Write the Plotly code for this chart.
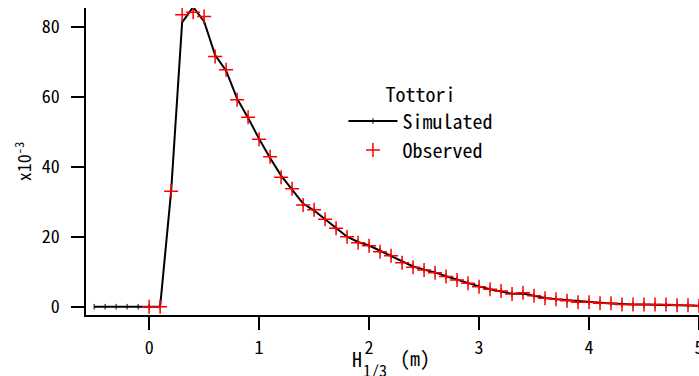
import plotly.graph_objects as go

# Significant wave height squared, H_1/3^2 (m)
sim_x = [-0.5, -0.4, -0.3, -0.2, -0.1, 0.0, 0.1, 0.2, 0.3, 0.4, 0.5, 0.6, 0.7, 0.8, 0.9,
         1.0, 1.1, 1.2, 1.3, 1.4, 1.5, 1.6, 1.7, 1.8, 1.9, 2.0, 2.1, 2.2, 2.3, 2.4,
         2.5, 2.6, 2.7, 2.8, 2.9, 3.0, 3.1, 3.2, 3.3, 3.4, 3.5, 3.6, 3.7, 3.8, 3.9,
         4.0, 4.1, 4.2, 4.3, 4.4, 4.5, 4.6, 4.7, 4.8, 4.9, 5.0]
# Simulated frequency (x10^-3)
sim_y = [0, 0, 0, 0, 0, 0, 0, 33.0, 81.3, 85.7, 81.6, 72.0, 67.5, 59.5, 54.0,
         48.0, 42.5, 37.5, 33.5, 29.5, 27.5, 25.0, 22.5, 20.0, 18.5, 17.5, 16.0, 14.5, 12.8, 11.5,
         10.6, 9.8, 8.7, 7.7, 6.8, 5.8, 5.0, 4.4, 3.7, 3.8, 3.1, 2.5, 2.1, 1.8, 1.5,
         1.3, 1.1, 0.9, 0.7, 0.6, 0.6, 0.5, 0.5, 0.4, 0.4, 0.3]

obs_x = [0.0, 0.1, 0.2, 0.3, 0.4, 0.5, 0.6, 0.7, 0.8, 0.9,
         1.0, 1.1, 1.2, 1.3, 1.4, 1.5, 1.6, 1.7, 1.8, 1.9, 2.0, 2.1, 2.2, 2.3, 2.4,
         2.5, 2.6, 2.7, 2.8, 2.9, 3.0, 3.1, 3.2, 3.3, 3.4, 3.5, 3.6, 3.7, 3.8, 3.9,
         4.0, 4.1, 4.2, 4.3, 4.4, 4.5, 4.6, 4.7, 4.8, 4.9, 5.0]
# Observed frequency (x10^-3)
obs_y = [0, 0, 33.0, 83.5, 84.2, 83.0, 71.6, 67.8, 59.2, 54.2,
         47.9, 42.9, 37.0, 33.7, 29.1, 27.7, 25.0, 22.4, 20.0, 18.3, 17.4, 15.7, 14.6, 12.6, 11.3,
         10.5, 9.7, 8.6, 7.6, 6.7, 5.7, 5.0, 4.5, 3.6, 4.0, 3.1, 2.4, 2.1, 1.7, 1.3,
         1.3, 1.0, 1.0, 0.6, 0.6, 0.6, 0.6, 0.6, 0.4, 0.4, 0.3]

x_ticks = [0, 1, 2, 3, 4, 5]
y_ticks = [0, 20, 40, 60, 80]

FONT = "Noto Sans Mono CJK JP, Noto Sans CJK JP, DejaVu Sans Mono, monospace"

fig = go.Figure()
fig.add_trace(go.Scatter(
    x=sim_x, y=sim_y, mode="lines+markers", name="Simulated",
    line=dict(color="black", width=2),
    marker=dict(symbol="line-ns", size=4, line=dict(color="black", width=1)),
))
fig.add_trace(go.Scatter(
    x=obs_x, y=obs_y, mode="markers", name="Observed",
    marker=dict(symbol="cross-thin", size=10, line=dict(color="red", width=1.5)),
))

axis_common = dict(
    showgrid=False, zeroline=False, showline=True, linecolor="black", linewidth=1.5,
    ticks="outside", ticklen=13, tickwidth=1.5, tickcolor="black",
    tickfont=dict(family=FONT, size=18, color="black"), automargin=False,
)

fig.update_layout(
    width=699, height=376,
    margin=dict(l=86, r=0, t=8, b=61),
    paper_bgcolor="white", plot_bgcolor="white",
    font=dict(family=FONT, color="black"),
    xaxis=dict(range=[-0.574, 5.0], tickvals=x_ticks, ticklabelstandoff=3,
               ticklabeloverflow="allow", **axis_common),
    yaxis=dict(range=[-2.38, 85.44], tickvals=y_ticks, ticklabelstandoff=8,
               title=dict(text="x10<sup>-3</sup>", font=dict(family=FONT, size=18), standoff=5),
               **axis_common),
    legend=dict(
        x=0.42, y=0.78, xanchor="left", yanchor="top",
        bgcolor="rgba(0,0,0,0)", borderwidth=0,
        font=dict(family=FONT, size=20, color="black"),
        title=dict(text="Tottori", side="top center", font=dict(family=FONT, size=20)),
        itemwidth=49, tracegroupgap=0,
    ),
    showlegend=True,
)

# x-axis title: H with subscript 1/3 (the superscript 2 sits on the "2" tick label), then units
title_font = dict(family=FONT, size=20, color="black")
small_font = dict(family=FONT, size=16, color="black")
fig.add_annotation(text="H", xref="paper", yref="paper", x=(357 - 86) / 613, y=(315 - 358) / 307,
                   showarrow=False, font=title_font, xanchor="center", yanchor="middle")
fig.add_annotation(text="1/3", xref="paper", yref="paper", x=(375 - 86) / 613, y=(315 - 370) / 307,
                   showarrow=False, font=small_font, xanchor="center", yanchor="middle")
fig.add_annotation(text="(m)", xref="paper", yref="paper", x=(415 - 86) / 613, y=(315 - 357) / 307,
                   showarrow=False, font=title_font, xanchor="center", yanchor="middle")

fig.write_html("out.html")
